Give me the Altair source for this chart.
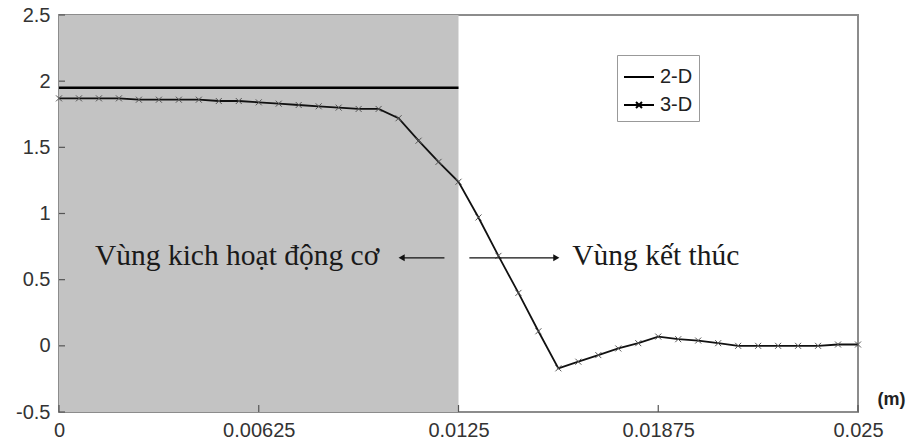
import altair as alt
import pandas as pd

# ---- data ----
x_pos = [0, 0.000625, 0.00125, 0.001875, 0.0025, 0.003125, 0.00375, 0.004375,
         0.005, 0.005625, 0.00625, 0.006875, 0.0075, 0.008125, 0.00875, 0.009375,
         0.01, 0.010625, 0.01125, 0.011875, 0.0125, 0.013125, 0.01375, 0.014375,
         0.015, 0.015625, 0.01625, 0.016875, 0.0175, 0.018125, 0.01875, 0.019375,
         0.02, 0.020625, 0.02125, 0.021875, 0.0225, 0.023125, 0.02375, 0.024375, 0.025]
y_3d = [1.87, 1.87, 1.87, 1.87, 1.86, 1.86, 1.86, 1.86, 1.85, 1.85, 1.84, 1.83,
        1.82, 1.81, 1.80, 1.79, 1.79, 1.72, 1.55, 1.39, 1.24, 0.97, 0.68, 0.40,
        0.11, -0.17, -0.12, -0.07, -0.02, 0.02, 0.07, 0.05, 0.04, 0.02, 0.0, 0.0,
        0.0, 0.0, 0.0, 0.01, 0.01]
x_2d = [0, 0.0125]
y_2d = [1.95, 1.95]

region_start = [0.0]
region_end = [0.0125]

x_domain = [0, 0.025]
y_domain = [-0.5, 2.5]
x_ticks = [0, 0.00625, 0.0125, 0.01875, 0.025]
y_ticks = [-0.5, 0, 0.5, 1, 1.5, 2, 2.5]

series = ["2-D", "3-D"]
series_shapes = ["M-1,0H1", "M-1,0H1M-0.2,-0.2L0.2,0.2M-0.2,0.2L0.2,-0.2"]

note_text = ["Vùng kich hoạt động cơ", "Vùng kết thúc"]
note_x = [0.001125, 0.01606]
note_y = [0.61, 0.61]

arrow_tail = [0.01206, 0.01284]
arrow_head = [0.01072, 0.01556]
arrow_y = [0.665, 0.665]

# ---- frames ----
df3 = pd.DataFrame({"x": x_pos, "y": y_3d})
df2 = pd.DataFrame({"x": x_2d, "y": y_2d})
dfr = pd.DataFrame({"x": region_start, "x2": region_end,
                    "y": [y_domain[0]], "y2": [y_domain[1]]})
dfn = pd.DataFrame({"x": note_x, "y": note_y, "t": note_text})
dfa = pd.DataFrame({"x": arrow_tail, "x2": arrow_head, "y": arrow_y})
dfl = pd.DataFrame({"x": [arrow_head[0]], "y": [arrow_y[0]]})
dfrh = pd.DataFrame({"x": [arrow_head[1]], "y": [arrow_y[1]]})
dfxt = pd.DataFrame({"x": x_ticks})
dfyt = pd.DataFrame({"y": y_ticks})
dfleg = pd.DataFrame({"series": series})

xs = alt.Scale(domain=x_domain, nice=False, zero=False)
ys = alt.Scale(domain=y_domain, nice=False, zero=False)

x_axis = alt.Axis(values=x_ticks, labelExpr="'' + datum.value", ticks=False,
                  domain=False, grid=False, labelFlush=False, labelOverlap=False,
                  labelPadding=8, labelFontSize=20, labelColor="#333",
                  labelFont="Liberation Sans", title="(m)", titleFont="Liberation Sans",
                  titleFontSize=18, titleFontWeight="bold", titleColor="#222",
                  titleX=832, titleY=-13, titleBaseline="middle", titleAlign="center")
y_axis = alt.Axis(values=y_ticks, labelExpr="'' + datum.value", ticks=False,
                  domain=False, grid=False, labelFlush=False, labelOverlap=False,
                  labelPadding=9, labelFontSize=20, labelColor="#333",
                  labelFont="Liberation Sans", title="")

region = alt.Chart(dfr).mark_rect(color="#c3c3c3").encode(
    x=alt.X("x:Q", scale=xs, axis=x_axis),
    x2="x2:Q",
    y=alt.Y("y:Q", scale=ys, axis=y_axis),
    y2="y2:Q",
)

xticks = alt.Chart(dfxt).mark_rule(color="#555", strokeWidth=1.2).encode(
    x=alt.X("x:Q", scale=xs), y=alt.value(397), y2=alt.value(390))
yticks = alt.Chart(dfyt).mark_rule(color="#555", strokeWidth=1.2).encode(
    y=alt.Y("y:Q", scale=ys), x=alt.value(0), x2=alt.value(6))

line2 = alt.Chart(df2).mark_line(color="black", strokeWidth=2.5).encode(
    x=alt.X("x:Q", scale=xs), y=alt.Y("y:Q", scale=ys))
line3 = alt.Chart(df3).mark_line(color="#111", strokeWidth=1.8).encode(
    x=alt.X("x:Q", scale=xs), y=alt.Y("y:Q", scale=ys))
pts3 = alt.Chart(df3).mark_point(shape="M-1,-1L1,1M-1,1L1,-1", size=36,
                                 filled=False, color="#555", strokeWidth=1,
                                 opacity=1).encode(
    x=alt.X("x:Q", scale=xs), y=alt.Y("y:Q", scale=ys))

notes = alt.Chart(dfn).mark_text(font="Liberation Serif", fontSize=29.5,
                                 align="left", baseline="alphabetic",
                                 color="#1a1a1a").encode(
    x=alt.X("x:Q", scale=xs), y=alt.Y("y:Q", scale=ys), text="t:N")

arrows = alt.Chart(dfa).mark_rule(color="#111", strokeWidth=1.3).encode(
    x=alt.X("x:Q", scale=xs), x2="x2:Q", y=alt.Y("y:Q", scale=ys))
head_l = alt.Chart(dfl).mark_point(shape="triangle-left", filled=True,
                                   color="#111", size=50, opacity=1).encode(
    x=alt.X("x:Q", scale=xs), y=alt.Y("y:Q", scale=ys))
head_r = alt.Chart(dfrh).mark_point(shape="triangle-right", filled=True,
                                    color="#111", size=50, opacity=1).encode(
    x=alt.X("x:Q", scale=xs), y=alt.Y("y:Q", scale=ys))

legend_layer = alt.Chart(dfleg).mark_point(filled=False, color="black",
                                           opacity=1).encode(
    x=alt.value(-600), y=alt.value(-600),
    shape=alt.Shape("series:N",
                    scale=alt.Scale(domain=series, range=series_shapes),
                    legend=alt.Legend(orient="none", legendX=558, legendY=40,
                                      title=None, padding=6, rowPadding=2,
                                      strokeColor="#999", fillColor="white",
                                      labelFont="Liberation Sans", labelFontSize=20,
                                      labelColor="#222", labelOffset=5,
                                      symbolSize=900, symbolStrokeWidth=2,
                                      symbolStrokeColor="black",
                                      symbolFillColor="transparent")),
)

chart = alt.layer(region, xticks, yticks, line2, line3, pts3, arrows, head_l,
                  head_r, notes, legend_layer).properties(
    width=799, height=397,
    autosize=alt.AutoSizeParams(type="none"),
    padding={"left": 59, "top": 15, "right": 58, "bottom": 34},
    background="white",
).configure_view(stroke="#8c8c8c", strokeWidth=2)

chart.save("out.html", embed_options={"renderer": "svg", "actions": False})
